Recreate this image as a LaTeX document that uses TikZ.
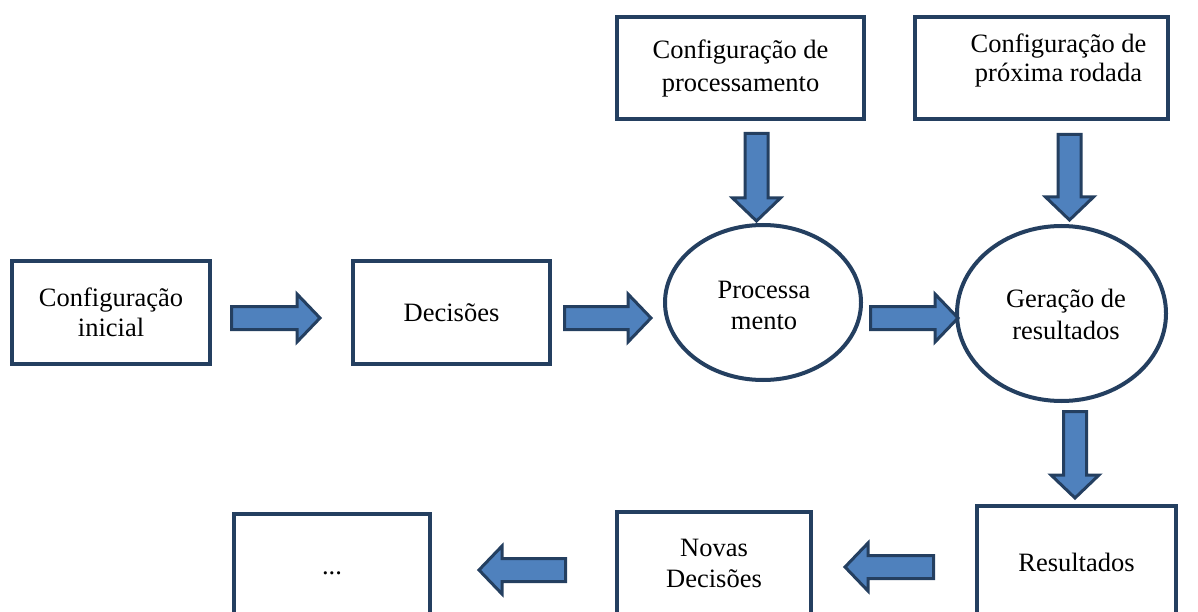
\documentclass[tikz,border=0pt]{standalone}
\usepackage{fontspec}
\setmainfont{Liberation Serif}
\usetikzlibrary{shapes.geometric}
\definecolor{navy}{RGB}{36,63,96}
\definecolor{steel}{RGB}{79,129,189}
\newcommand{\txtsize}[1]{\fontsize{26.5}{#1}\selectfont}
\tikzset{
  box/.style={draw=navy, line width=4pt, fill=white, rectangle, inner sep=0pt,
    align=center, font=\txtsize{30}},
  oval/.style={draw=navy, line width=4pt, fill=white, ellipse, inner sep=0pt,
    align=center, font=\txtsize{31}},
  txt/.style={inner sep=0pt, align=center},
  blockline/.style={draw=navy, fill=steel, line width=3pt, line join=miter},
  % block arrow pointing along +x, tail at the pic origin, #1 = length
  pics/barrow/.style={code={
    \path[blockline] (0,-11.5) -- ({#1-23},-11.5) -- ({#1-23},-24) -- (#1,0)
      -- ({#1-23},24) -- ({#1-23},11.5) -- (0,11.5) -- cycle;}}
}
\begin{document}
\begin{tikzpicture}[x=1pt,y=-1pt]
\clip (0,0) rectangle (1198,612);

% boxes and stages
\node[box, minimum width=198pt, minimum height=103pt] (ci)  at (111,312.5)   {Configuração\\inicial};
\node[box, minimum width=197pt, minimum height=103pt] (dec) at (451.5,312.5) {Decisões};
\node[box, minimum width=247pt, minimum height=102pt, font=\txtsize{33}] (cp) at (740.5,68) {Configuração de\\processamento};
\node[box, minimum width=253pt, minimum height=102pt,
  label={[txt, font=\txtsize{29.5}, xshift=17pt, yshift=7.5pt]center:{Configuração de\\próxima rodada}}] (cpr) at (1041.5,68) {};
\node[oval, minimum width=196pt, minimum height=155pt,
  label={[txt, font=\txtsize{31}, xshift=1pt, yshift=-3pt]center:{Processa\\mento}}] (proc) at (763,302.5) {};
\node[oval, minimum width=209pt, minimum height=175pt,
  label={[txt, font=\txtsize{32}, xshift=4.5pt, yshift=-0.5pt]center:{Geração de\\resultados}}] (gen) at (1061.5,313.5) {};
\node[box, minimum width=199pt, minimum height=112pt] (res) at (1076.5,562)  {Resultados};
\node[box, minimum width=194pt, minimum height=104pt, font=\txtsize{31}] (nd) at (714,563.5) {Novas\\Decisões};
\node[box, minimum width=196pt, minimum height=118pt] (dots) at (332,573)    {...};

% block arrows
\pic at (231.5,318) {barrow=88.5};
\pic at (564.5,318) {barrow=86.5};
\pic at (870.5,318) {barrow=87.5};
\pic[rotate=-90] at (756.5,133.5) {barrow=87.5};
\pic[rotate=-90] at (1069.5,134.5) {barrow=85.5};
\pic[rotate=-90] at (1075,411.5) {barrow=86.5};
\pic[rotate=180] at (933.5,567) {barrow=88.5};
\pic[rotate=180] at (565.5,570) {barrow=86.5};
\end{tikzpicture}
\end{document}
